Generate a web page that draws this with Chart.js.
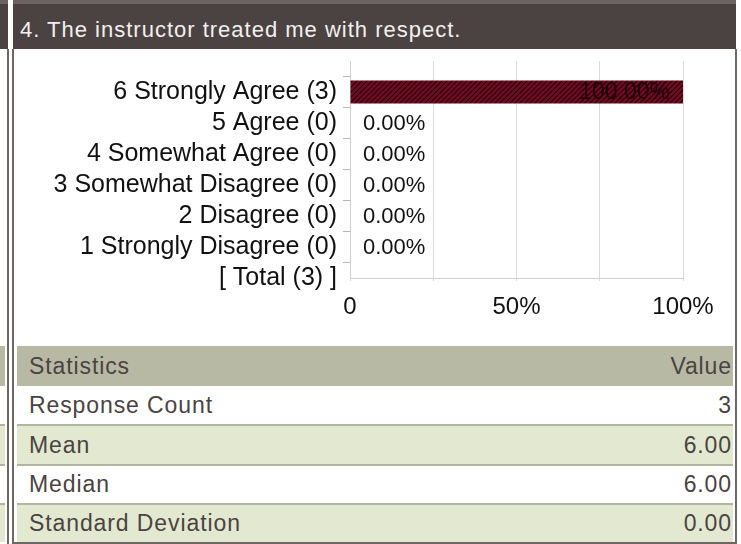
<!DOCTYPE html>
<html>
<head>
<meta charset="utf-8">
<title>4. The instructor treated me with respect.</title>
<script src="https://cdn.jsdelivr.net/npm/chart.js@4"></script>
<style>
  body { margin:0; width:741px; height:544px; position:relative; overflow:hidden; background:#fff;
         font-family:"Liberation Sans", Arial, sans-serif; }
  .abs { position:absolute; }
  #lhead { left:0; top:0; width:8px; height:49px; background:#4b4341; }
  #head  { left:13px; top:0; width:723px; height:49px; background:#4b4341; }
  .topband { top:0; height:4px; background:#6a6361; }
  #title { left:20px; top:11px; line-height:38px; font-size:22px; letter-spacing:1px; color:#f2f0ef; white-space:nowrap; }
  .vline { top:49px; width:2px; height:495px; background:#6e6764; }
  #chartBox { left:14px; top:49px; width:721px; height:297px; }
  .row { position:absolute; display:flex; justify-content:space-between; align-items:center;
         font-size:23px; letter-spacing:0.9px; color:#4a4341; box-sizing:border-box; padding:0 1px 0 12px; }
</style>
</head>
<body>
<div id="lhead" class="abs"></div>
<div id="head" class="abs"></div>
<div class="abs topband" style="left:0;width:8px"></div>
<div class="abs topband" style="left:13px;width:723px"></div>
<div id="title" class="abs"></div>
<div class="abs vline" style="left:7px"></div>
<div class="abs vline" style="left:12px"></div>
<div class="abs vline" style="left:735px"></div>
<div id="chartBox" class="abs"><canvas id="myChart" width="721" height="297"></canvas></div>
<div id="tabla"></div>

<script>
// Datos
let titulo      = "4. The instructor treated me with respect.";
let categorias  = ["6 Strongly Agree (3)", "5 Agree (0)", "4 Somewhat Agree (0)",
                   "3 Somewhat Disagree (0)", "2 Disagree (0)", "1 Strongly Disagree (0)", "[ Total (3) ]"];
let porcentajes = [100, 0, 0, 0, 0, 0, null];
let xEtiquetas  = ["0", "", "50%", "", "100%"];   // ticks cada 25%
let statHeader  = ["Statistics", "Value"];
let statNombres = ["Response Count", "Mean", "Median", "Standard Deviation"];
let statValores = ["3", "6.00", "6.00", "0.00"];

document.getElementById("title").textContent = titulo;

// Tabla de estadisticas (y la franja del panel izquierdo)
function renderTabla() {
  const cont = document.getElementById("tabla");
  const filas = [{ a: statHeader[0], b: statHeader[1], bg: "#b7b9a5", h: 40 }];
  statNombres.forEach((n, i) => {
    filas.push({ a: n, b: statValores[i], bg: i % 2 ? "#e3e9d1" : "#ffffff", h: i < 2 ? 38 : 37 });
  });
  let y = 346;
  filas.forEach((f, i) => {
    if (i > 1) {
      cont.innerHTML += `<div class="abs" style="left:17px;top:${y}px;width:716px;height:2px;background:#b3b5a2"></div>
                         <div class="abs" style="left:0;top:${y}px;width:5px;height:2px;background:#b3b5a2"></div>`;
      y += 2;
    }
    cont.innerHTML += `<div class="row" style="left:17px;top:${y}px;width:716px;height:${f.h}px;background:${f.bg}"><span>${f.a}</span><span>${f.b}</span></div>
                       <div class="abs" style="left:0;top:${y}px;width:5px;height:${f.h}px;background:${f.bg}"></div>`;
    y += f.h;
  });
  cont.innerHTML += `<div class="abs" style="left:14px;top:${y}px;width:723px;height:2px;background:#6e6764"></div>`;
}
renderTabla();

// Relleno rayado de la barra
function rayado(ctx) {
  const c = document.createElement("canvas");
  c.width = 5; c.height = 5;
  const g = c.getContext("2d");
  g.fillStyle = "#740b22"; g.fillRect(0, 0, 5, 5);
  g.strokeStyle = "#1e0308"; g.lineWidth = 1.1;
  g.beginPath();
  g.moveTo(0, 5); g.lineTo(5, 0);
  g.moveTo(-2.5, 2.5); g.lineTo(2.5, -2.5);
  g.moveTo(2.5, 7.5); g.lineTo(7.5, 2.5);
  g.stroke();
  return ctx.createPattern(c, "repeat");
}

// Etiquetas de porcentaje junto a cada barra
const etiquetasValor = {
  id: "etiquetasValor",
  afterDatasetsDraw(chart) {
    const ctx = chart.ctx;
    const data = chart.data.datasets[0].data;
    chart.getDatasetMeta(0).data.forEach((bar, i) => {
      const v = data[i];
      if (v == null) return;
      const txt = v.toFixed(2) + "%";
      ctx.save();
      ctx.textBaseline = "middle";
      if (v >= 50) {
        ctx.font = '23px "Liberation Sans", Arial';
        ctx.textAlign = "right";
        ctx.fillStyle = "#1c0509";
        ctx.fillText(txt, bar.x - 13, bar.y + 1);
      } else {
        ctx.font = '22px "Liberation Sans", Arial';
        ctx.textAlign = "left";
        ctx.fillStyle = "#111";
        ctx.fillText(txt, bar.x + 13, bar.y + 1);
      }
      ctx.restore();
    });
  }
};

function renderGrafica() {
  const myChart = document.getElementById("myChart");
  const ctx = myChart.getContext("2d");
  Chart.defaults.font.family = '"Liberation Sans", Arial, sans-serif';
  const labels = [""].concat(categorias);      // fila vacia arriba
  const data   = [null].concat(porcentajes);
  new Chart(myChart, {
    type: "bar",
    data: { labels, datasets: [{ data, backgroundColor: rayado(ctx), barThickness: 23,
                                 borderWidth: 0, inflateAmount: 0 }] },
    options: {
      indexAxis: "y",
      responsive: false,
      animation: false,
      layout: { padding: { top: 12, right: 52, left: 0, bottom: 0 } },
      plugins: { legend: { display: false }, tooltip: { enabled: false } },
      scales: {
        x: {
          min: 0, max: 100,
          grid: { color: "#dadada", tickLength: 3 },
          border: { color: "#cfcfcf" },
          ticks: { stepSize: 25, autoSkip: false, maxRotation: 0, padding: 12,
                   font: { size: 24 }, color: "#111",
                   callback: (v) => xEtiquetas[v / 25] },
          afterFit(s) { s.height = 68; }
        },
        y: {
          offset: false,
          grid: { drawOnChartArea: false, tickLength: 7,
                  color: (c) => c.index === 0 ? "rgba(0,0,0,0)" : "#b8b8b8" },
          border: { color: "#cfcfcf" },
          ticks: { autoSkip: false, padding: 6, font: { size: 25 }, color: "#111" },
          afterFit(s) { s.width = 336; s.paddingTop = 0; s.paddingBottom = 0; }
        }
      }
    },
    plugins: [etiquetasValor]
  });
}
renderGrafica();
</script>
</body>
</html>
